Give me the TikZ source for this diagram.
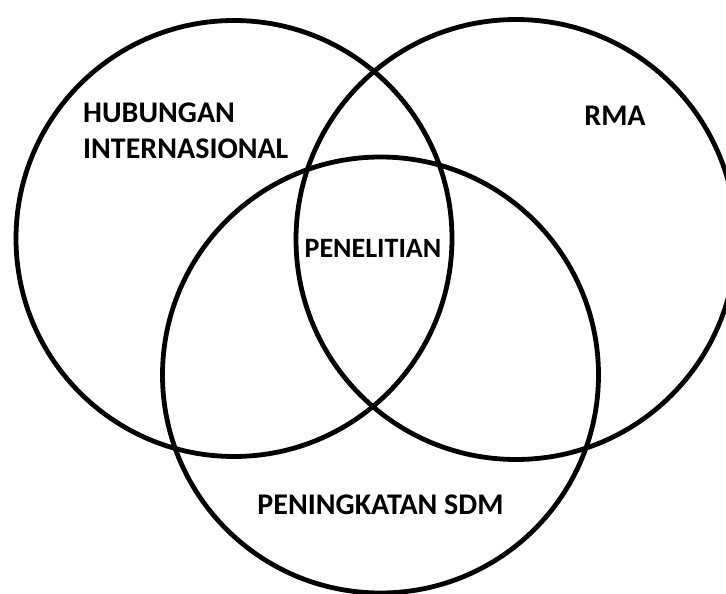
\documentclass[tikz,border=0pt]{standalone}
\usepackage{fontspec}
\setmainfont{Carlito}
\begin{document}
\begin{tikzpicture}[x=1pt,y=-1pt,
  setcircle/.style={circle, draw=black, line width=4.8pt, minimum size=#1, inner sep=0pt, outer sep=0pt},
  lbl/.style={font=\fontsize{30}{36}\selectfont\bfseries, inner sep=0pt, text=black}]
\useasboundingbox (0,0) rectangle (726,594);
\clip (0,0) rectangle (726,594);
\fill[white] (0,0) rectangle (726,594);
\node[setcircle=436pt] (hi) at (234,238.5) {};
\node[setcircle=440pt] (rma) at (516,239.5) {};
\node[setcircle=436pt] (sdm) at (380.5,375) {};
\node[lbl, anchor=base west] (thi1) at (83,122) {HUBUNGAN};
\node[lbl, anchor=base west] (thi2) at (83,158) {INTERNASIONAL};
\node[lbl, anchor=base] (trma) at (615,125) {RMA};
\node[lbl, font=\fontsize{28}{34}\selectfont\bfseries, anchor=base] (tpen) at (373,257) {PENELITIAN};
\node[lbl, anchor=base] (tsdm) at (380.5,514) {PENINGKATAN SDM};
\end{tikzpicture}
\end{document}
